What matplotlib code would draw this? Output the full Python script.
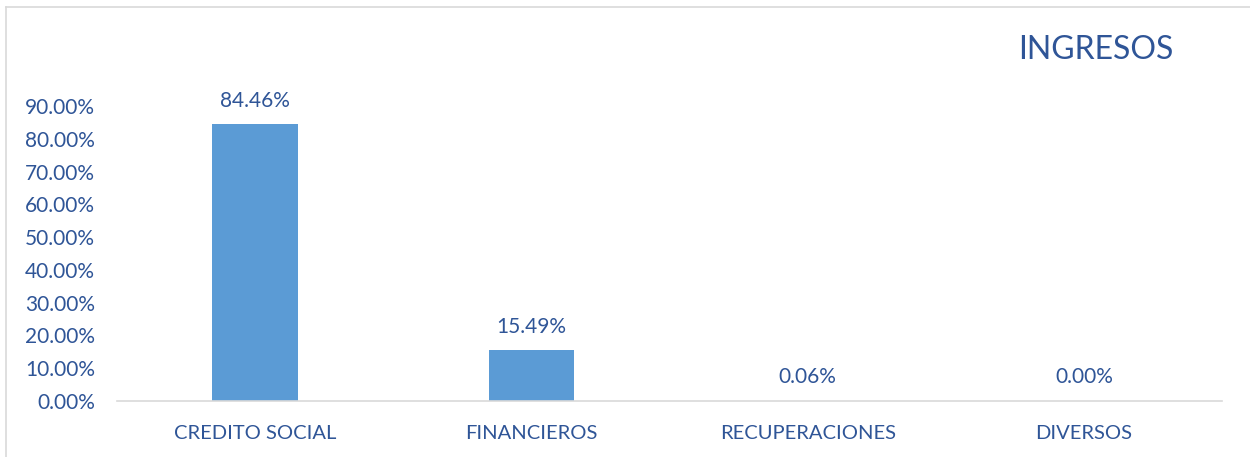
import matplotlib
matplotlib.use("Agg")
import matplotlib.pyplot as plt
from matplotlib.lines import Line2D

categories = ["CREDITO SOCIAL", "FINANCIEROS", "RECUPERACIONES", "DIVERSOS"]
values = [84.46, 15.49, 0.06, 0.00]
labels = ["84.46%", "15.49%", "0.06%", "0.00%"]
yticks = [0, 10, 20, 30, 40, 50, 60, 70, 80, 90]
title = "INGRESOS"

TXT = "#2F5597"
BAR = "#5B9BD5"
plt.rcParams['font.family'] = ['Lato', 'DejaVu Sans']

W, H = 1250, 457
fig = plt.figure(figsize=(W/100, H/100), dpi=100)
ax = fig.add_axes([117/W, 1-401/H, (1222-117)/W, (401-106)/H])

x = range(len(categories))
ax.bar(x, values, width=0.31, color=BAR, zorder=2)
ax.set_xlim(-0.5, len(categories)-0.5)
ax.set_ylim(0, 90)
ax.set_yticks(yticks)
ax.set_yticklabels([f"{v:.2f}%" for v in yticks], color=TXT, fontsize=15)
ax.set_xticks(list(x))
ax.set_xticklabels(categories, color=TXT, fontsize=14.5)
ax.tick_params(axis='both', length=0)
ax.tick_params(axis='y', pad=16)
ax.tick_params(axis='x', pad=17)
for s in ['top', 'right', 'left']:
    ax.spines[s].set_visible(False)
ax.spines['bottom'].set_color('#D9D9D9')
ax.spines['bottom'].set_linewidth(1.2)

for i, (v, lab) in enumerate(zip(values, labels)):
    ax.annotate(lab, (i, v), xytext=(0, 17), textcoords='offset points',
                ha='center', va='center', color=TXT, fontsize=15)

fig.text(1096/W, 1-50/H, title, color=TXT, fontsize=23, ha='center', va='center')

fig.add_artist(Line2D([6/W, 1], [1-7/H, 1-7/H], color='#D9D9D9', lw=1.2, transform=fig.transFigure))
fig.add_artist(Line2D([6/W, 6/W], [0, 1-7/H], color='#D9D9D9', lw=1.2, transform=fig.transFigure))

fig.savefig("out.png", dpi=100)
